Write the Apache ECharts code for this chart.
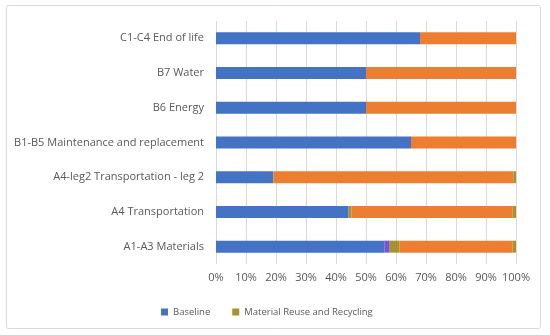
<!DOCTYPE html>
<html><head><meta charset="utf-8">
<script src="https://cdn.jsdelivr.net/npm/echarts@6/dist/echarts.min.js"></script>
<style>html,body{margin:0;padding:0;background:#fff}#c{width:550px;height:335px}</style>
</head><body><div id="c"></div>
<script>
var categories = ['A1-A3 Materials','A4 Transportation','A4-leg2 Transportation - leg 2','B1-B5 Maintenance and replacement','B6 Energy','B7 Water','C1-C4 End of life'];
var baseline = [56.1, 44.2, 19, 65, 50, 50, 68];
var purple = [1.8, 0, 0, 0, 0, 0, 0];
var reuse1 = [3.3, 0.9, 0.2, 0, 0, 0, 0];
var orange = [37.7, 53.8, 79.9, 35, 50, 50, 32];
var reuse2 = [1.1, 1.1, 0.9, 0, 0, 0, 0];
var xTicks = [0,10,20,30,40,50,60,70,80,90,100];

var chart = echarts.init(document.getElementById('c'));
var font = 'Open Sans';
function s(name, data, color){
  return {name:name, type:'bar', stack:'t', data:data, barWidth:12, itemStyle:{color:color}, silent:true};
}
chart.setOption({
  animation:false,
  textStyle:{fontFamily:font},
  graphic:[{type:'rect', shape:{x:6.5,y:5.5,width:534,height:323,r:2}, style:{fill:'none',stroke:'#d9d9d9',lineWidth:1}}],
  grid:{left:216,right:34,top:21,bottom:71},
  legend:{data:['Baseline','Material Reuse and Recycling'], top:302, left:156, itemWidth:7, itemHeight:7, itemGap:22, icon:'rect',
    textStyle:{color:'#595959', fontSize:9.5, fontFamily:font}},
  xAxis:{type:'value', min:0, max:100, interval:10,
    axisLine:{show:false}, axisTick:{show:false},
    splitLine:{lineStyle:{color:'#d9d9d9'}},
    axisLabel:{formatter:function(v){return v+'%';}, color:'#595959', fontSize:11, margin:8}},
  yAxis:{type:'category', data:categories, axisLine:{show:false}, axisTick:{show:false},
    axisLabel:{color:'#595959', fontSize:11, margin:12}},
  series:[s('Baseline',baseline,'#4472C4'), s('Other',purple,'#7B55D0'), s('Material Reuse and Recycling',reuse1,'#A5942E'), s('Remaining',orange,'#ED7D31'), s('Reuse end',reuse2,'#A5942E')]
});
</script></body></html>
